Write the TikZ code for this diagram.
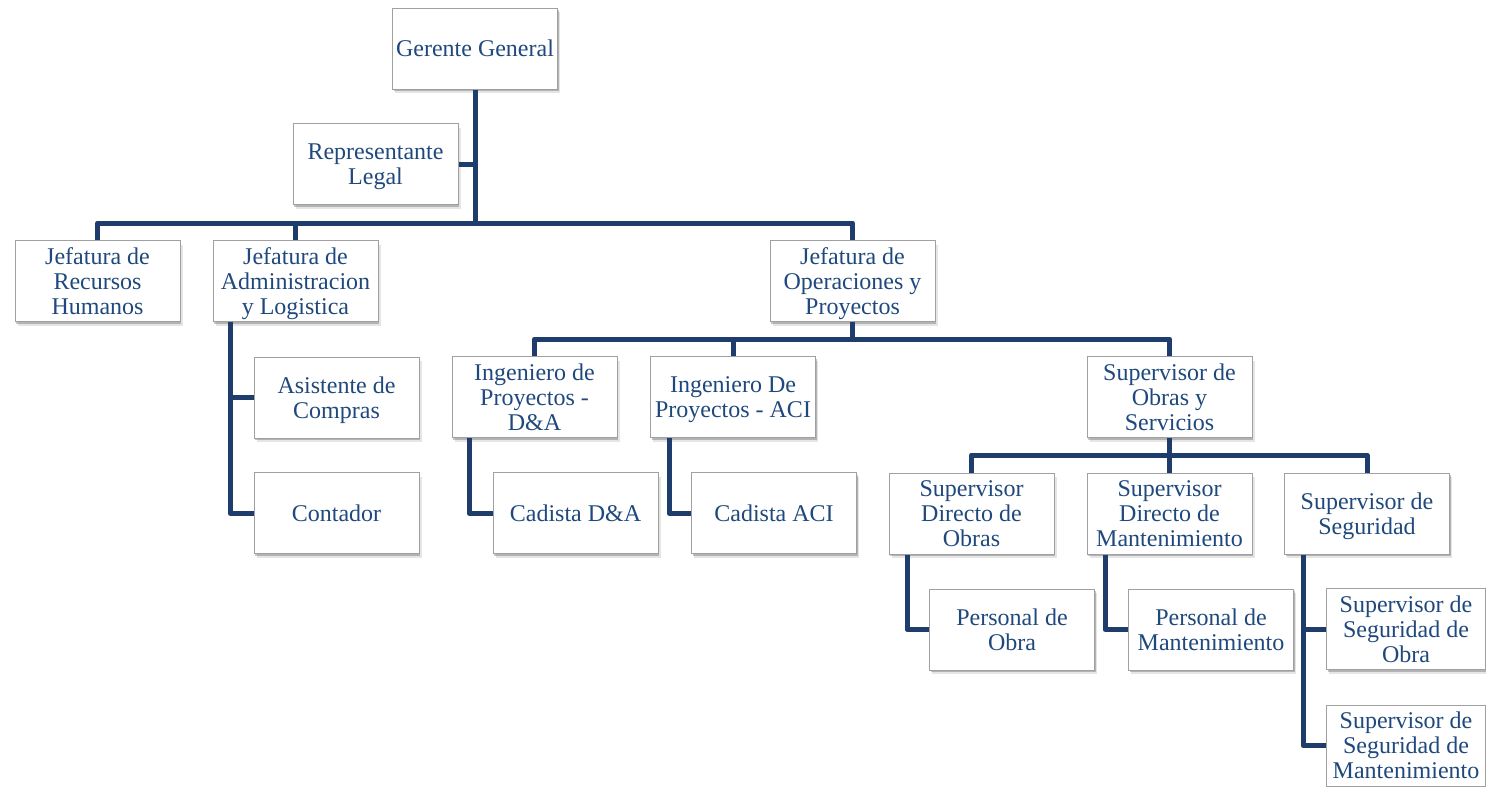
\documentclass[tikz,border=0pt]{standalone}
\usepackage{fontspec}
\setmainfont{Liberation Serif}
\usetikzlibrary{shadows}

\definecolor{txtblue}{RGB}{31,73,125}
\definecolor{linkblue}{RGB}{30,60,108}
\definecolor{boxgray}{RGB}{160,160,160}

\tikzset{
  orgbox/.style={draw=boxgray, line width=1pt, fill=white, text=txtblue,
    minimum width=165pt, minimum height=81pt, inner sep=0pt, align=center,
    font=\fontsize{24}{25}\selectfont,
    drop shadow={shadow xshift=2.5pt, shadow yshift=-4pt, opacity=0.10, fill=black},
    drop shadow={shadow xshift=1pt, shadow yshift=-2pt, opacity=0.22, fill=black}},
  % fixed text box sizes so that the lines sit at the same place in every box
  twoline/.style={text height=41pt, text depth=0pt},
  threeline/.style={text height=66pt, text depth=0pt},
  link/.style={draw=linkblue, line width=5pt, line join=round}
}

\begin{document}
\begin{tikzpicture}[x=1pt, y=-1pt]
\useasboundingbox (0,0) rectangle (1486,787);

% boxes
\node[orgbox] (gg)   at (475,48.5)     {Gerente General};
\node[orgbox, twoline] (rl) at (375.5,164) {Representante\\Legal};
\node[orgbox, threeline] (rh)  at (97.5,281)  {Jefatura de\\Recursos\\Humanos};
\node[orgbox, threeline] (adm) at (295.5,281) {Jefatura de\\Administracion\\y Logistica};
\node[orgbox, threeline] (ops) at (852.5,281) {Jefatura de\\Operaciones y\\Proyectos};
\node[orgbox, twoline] (ast) at (336.5,397.5) {Asistente de\\Compras};
\node[orgbox] (cont) at (336.5,513)    {Contador};
\node[orgbox, threeline] (ida) at (534.5,397) {Ingeniero de\\Proyectos -\\D\&A};
\node[orgbox, twoline] (iaci) at (733,397) {Ingeniero De\\Proyectos - ACI};
\node[orgbox, threeline] (sos) at (1169.5,397) {Supervisor de\\Obras y\\Servicios};
\node[orgbox] (cda)  at (575.5,513)    {Cadista D\&A};
\node[orgbox] (caci) at (774,513)      {Cadista ACI};
\node[orgbox, threeline] (sdo) at (971.5,513.5)  {Supervisor\\Directo de\\Obras};
\node[orgbox, threeline] (sdm) at (1169.5,513.5) {Supervisor\\Directo de\\Mantenimiento};
\node[orgbox, twoline] (ss) at (1367,513.5) {Supervisor de\\Seguridad};
\node[orgbox, twoline] (po) at (1012,629.5) {Personal de\\Obra};
\node[orgbox, twoline] (pm) at (1211,629.5) {Personal de\\Mantenimiento};
\node[orgbox, threeline, minimum width=159pt] (sso) at (1406,629) {Supervisor de\\Seguridad de\\Obra};
\node[orgbox, threeline, minimum width=159pt] (ssm) at (1406,745.5) {Supervisor de\\Seguridad de\\Mantenimiento};

% bus lines and branch columns
\coordinate (b1) at (0,223);
\coordinate (b2) at (0,339);
\coordinate (b3) at (0,455);
\coordinate (cadm) at (230,0);
\coordinate (cida) at (469,0);
\coordinate (ciaci) at (669,0);
\coordinate (csdo) at (907,0);
\coordinate (csdm) at (1105,0);
\coordinate (css) at (1303,0);

% top level
\draw[link] (gg.south) -- (gg.south |- b1);
\draw[link] (rl.east) -- (rl.east -| gg.south);
\draw[link] (rh.north) |- (b1 -| ops.north) -- (ops.north);
\draw[link] (adm.north) -- (adm.north |- b1);

% administration
\draw[link] (adm.south -| cadm) |- (cont.west);
\draw[link] (ast.west) -- (ast.west -| cadm);

% operations
\draw[link] (ops.south) -- (ops.south |- b2);
\draw[link] (ida.north) |- (b2 -| sos.north) -- (sos.north);
\draw[link] (iaci.north) -- (iaci.north |- b2);
\draw[link] (ida.south -| cida) |- (cda.west);
\draw[link] (iaci.south -| ciaci) |- (caci.west);

% works and services
\draw[link] (sos.south) -- (sos.south |- b3);
\draw[link] (sdo.north) |- (b3 -| ss.north) -- (ss.north);
\draw[link] (sdm.north) -- (sdm.north |- b3);
\draw[link] (sdo.south -| csdo) |- (po.west);
\draw[link] (sdm.south -| csdm) |- (pm.west);
\draw[link] (ss.south -| css) |- (ssm.west);
\draw[link] (sso.west) -- (sso.west -| css);
\end{tikzpicture}
\end{document}
